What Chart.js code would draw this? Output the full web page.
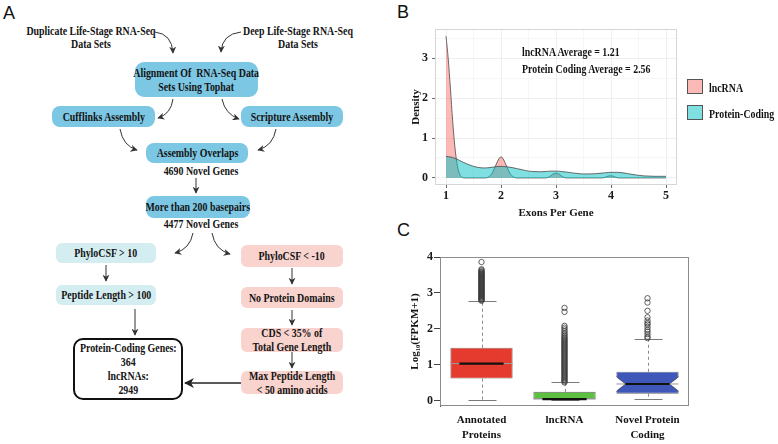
<!DOCTYPE html>
<html><head><meta charset="utf-8">
<script src="https://cdn.jsdelivr.net/npm/chart.js@4"></script>
<style>
html,body{margin:0;padding:0;background:#fff;}
#root{position:relative;width:778px;height:444px;overflow:hidden;font-family:"Liberation Serif","Times New Roman",serif;color:#141414;}
.plab{position:absolute;font-family:"Liberation Sans",Arial,sans-serif;font-size:18px;line-height:18px;color:#111;}
.box{position:absolute;display:flex;align-items:center;justify-content:center;text-align:center;font-weight:bold;font-size:11.5px;line-height:14px;box-sizing:border-box;}
.box span{display:inline-block;transform:scaleX(0.86);white-space:nowrap;}
.blue{background:#7cc7e4;border-radius:8px;}
.cyan{background:#d4edf1;border-radius:6px;}
.pink{background:#f9d3ce;border-radius:6px;}
.txt{position:absolute;font-weight:bold;font-size:11.5px;line-height:13px;text-align:center;white-space:nowrap;transform:translateX(-50%) scaleX(0.86);}
.ann{position:absolute;font-weight:bold;font-size:13px;line-height:15px;white-space:nowrap;transform-origin:0 50%;transform:scaleX(0.76);}
.key{position:absolute;width:16px;height:15px;box-sizing:border-box;border:1px solid #555;}
canvas{position:absolute;}
svg{position:absolute;left:0;top:0;}
</style></head>
<body><div id="root">
<div class="plab" style="left:3px;top:4px">A</div>
<div class="plab" style="left:397px;top:3px">B</div>
<div class="plab" style="left:397px;top:221px">C</div>

<!-- Panel A flowchart -->
<div class="txt" style="left:91px;top:25px">Duplicate Life-Stage RNA-Seq<br>Data Sets</div>
<div class="txt" style="left:298px;top:25px">Deep Life-Stage RNA-Seq<br>Data Sets</div>
<div class="box blue" style="left:135px;top:62px;width:123px;height:35px;border-radius:9px"><span>Alignment Of&nbsp; RNA-Seq Data<br>Sets Using Tophat</span></div>
<div class="box blue" style="left:52px;top:106px;width:103px;height:21px"><span>Cufflinks Assembly</span></div>
<div class="box blue" style="left:241px;top:106px;width:102px;height:21px"><span>Scripture Assembly</span></div>
<div class="box blue" style="left:146px;top:143px;width:102px;height:20px"><span>Assembly Overlaps</span></div>
<div class="txt" style="left:201px;top:165px">4690 Novel Genes</div>
<div class="box blue" style="left:146px;top:196px;width:104px;height:22px"><span>More than 200 basepairs</span></div>
<div class="txt" style="left:201px;top:218px">4477 Novel Genes</div>
<div class="box cyan" style="left:56px;top:243px;width:100px;height:20px"><span>PhyloCSF &gt; 10</span></div>
<div class="box cyan" style="left:56px;top:285px;width:100px;height:20px"><span>Peptide Length &gt; 100</span></div>
<div class="box pink" style="left:241px;top:245px;width:102px;height:22px"><span>PhyloCSF &lt; -10</span></div>
<div class="box pink" style="left:241px;top:287px;width:102px;height:21px"><span>No Protein Domains</span></div>
<div class="box pink" style="left:241px;top:328px;width:102px;height:24px"><span>CDS &lt; 35% of<br>Total Gene Length</span></div>
<div class="box pink" style="left:241px;top:371px;width:102px;height:23px"><span>Max Peptide Length<br>&lt; 50 amino acids</span></div>
<div class="box" style="left:73px;top:338px;width:110px;height:62px;border:2px solid #111;border-radius:10px;background:#fff"><span>Protein-Coding Genes:<br>364<br>lncRNAs:<br>2949</span></div>
<svg width="380" height="444" viewBox="0 0 380 444">
<defs>
<marker id="ah" viewBox="0 0 10 10" refX="9" refY="5" markerWidth="7" markerHeight="7" markerUnits="userSpaceOnUse" orient="auto"><path d="M0,0 L10,5 L0,10 L3,5 z" fill="#333"/></marker>
<marker id="ahb" viewBox="0 0 10 10" refX="9" refY="5" markerWidth="11" markerHeight="10" markerUnits="userSpaceOnUse" orient="auto"><path d="M0,0 L10,5 L0,10 L3,5 z" fill="#222"/></marker>
</defs>
<g fill="none" stroke="#333" stroke-width="1" marker-end="url(#ah)">
<path d="M155 32 Q172 34 173 53"/>
<path d="M241 32 Q222 34 221 52"/>
<path d="M173 99 Q171 114 158 118"/>
<path d="M222 99 Q225 114 239 119"/>
<path d="M120 129 Q123 146 137 150"/>
<path d="M276 129 Q273 146 258 150"/>
<path d="M196 178 L196 193"/>
<path d="M193 233 Q190 249 175 253"/>
<path d="M212 233 Q215 250 230 254"/>
<path d="M106 265 L106 281"/>
<path d="M135 309 L135 335"/>
<path d="M292 268 L292 284"/>
<path d="M292 310 L292 325"/>
<path d="M292 352 L292 368"/>
</g>
<path d="M241 383 L185 383" fill="none" stroke="#222" stroke-width="1.6" marker-end="url(#ahb)"/>
</svg>

<!-- Panel B -->
<canvas id="cB" width="398" height="222" style="left:380px;top:0px"></canvas>
<div class="ann" style="left:522px;top:44px">lncRNA Average = 1.21</div>
<div class="ann" style="left:522px;top:61px">Protein Coding Average = 2.56</div>
<div class="key" style="left:687px;top:79px;background:rgba(248,118,109,0.5)"></div>
<div class="key" style="left:687px;top:105px;background:rgba(0,191,196,0.5)"></div>
<div class="ann" style="left:709px;top:80px">lncRNA</div>
<div class="ann" style="left:709px;top:106px">Protein-Coding</div>

<!-- Panel C -->
<canvas id="cC" width="398" height="222" style="left:380px;top:222px"></canvas>
</div>
<script>
// ---------- Panel B data (density of exons per gene) ----------
const lncX = [1.00,1.04,1.08,1.12,1.16,1.20,1.24,1.28,1.32,1.72,1.78,1.84,1.90,1.95,2.00,2.05,2.10,2.16,2.22,2.28,2.82,2.88,2.94,3.00,3.06,3.12,3.18,3.84,3.90,3.96,4.02,4.08,4.14,5.00];
const lncY = [3.56,3.00,2.25,1.45,0.80,0.36,0.12,0.03,0.00,0.00,0.03,0.12,0.30,0.45,0.53,0.45,0.30,0.12,0.03,0.00,0.00,0.03,0.09,0.12,0.09,0.03,0.00,0.00,0.02,0.05,0.05,0.02,0.00,0.00];
const pcX  = [1.0,1.1,1.2,1.3,1.4,1.5,1.6,1.7,1.8,1.9,2.0,2.1,2.2,2.3,2.4,2.5,2.6,2.7,2.8,2.9,3.0,3.1,3.2,3.3,3.4,3.5,3.6,3.7,3.8,3.9,4.0,4.1,4.2,4.3,4.4,4.5,4.6,4.7,4.8,4.9,5.0];
const pcY  = [0.54,0.52,0.47,0.40,0.34,0.29,0.26,0.25,0.26,0.28,0.29,0.28,0.26,0.23,0.20,0.17,0.16,0.155,0.16,0.17,0.17,0.16,0.145,0.125,0.11,0.10,0.10,0.105,0.115,0.13,0.14,0.14,0.13,0.11,0.085,0.065,0.05,0.045,0.04,0.04,0.04];
const bXTicks = [1,2,3,4,5];
const bXMinor = [1.5,2.5,3.5,4.5];
const bYTicks = [0,1,2,3];
const bYMinor = [0.5,1.5,2.5,3.5];
const seriesNames = ['lncRNA','Protein-Coding'];

// ---------- Panel C data (box plot of Log10(FPKM+1)) ----------
const boxCats  = [['Annotated','Proteins'],['lncRNA'],['Novel Protein','Coding']];
const boxQ1    = [0.61,0.04,0.19];
const boxMed   = [1.03,0.04,0.46];
const boxQ3    = [1.47,0.24,0.80];
const whiskLo  = [0.00,0.00,0.03];
const whiskHi  = [2.78,0.52,1.71];
const notchHalf= [0.01,0.01,0.21];
const annotOut = [2.78,2.80,2.82,2.84,2.86,2.88,2.90,2.92,2.94,2.96,2.98,3.00,3.02,3.04,3.06,3.08,3.10,3.12,3.14,3.16,3.18,3.20,3.22,3.24,3.26,3.28,3.30,3.32,3.34,3.36,3.38,3.40,3.42,3.44,3.46,3.48,3.50,3.52,3.54,3.56,3.58,3.60,3.63,3.66,3.86];
const lncOut   = [0.50,0.53,0.56,0.59,0.62,0.65,0.68,0.71,0.74,0.77,0.80,0.83,0.86,0.89,0.92,0.95,0.98,1.01,1.04,1.07,1.10,1.13,1.16,1.19,1.22,1.25,1.28,1.31,1.34,1.37,1.40,1.43,1.46,1.49,1.52,1.55,1.58,1.61,1.64,1.67,1.70,1.73,1.76,1.80,1.84,1.88,1.93,1.98,2.03,2.08,2.47,2.58];
const novelOut = [1.74,1.78,1.85,1.92,1.97,2.05,2.12,2.16,2.23,2.32,2.50,2.73,2.85];
const cYTicks  = [0,1,2,3,4];

// ---------- Panel B chart ----------
const serif = '"Liberation Serif","Times New Roman",serif';
const pts = (xs, ys) => xs.map((x, i) => ({x: x, y: ys[i]}));
const bBorder = {
  id: 'bBorder',
  afterDraw(chart) {
    const a = chart.chartArea, c = chart.ctx;
    c.save(); c.strokeStyle = '#d6d6d6'; c.lineWidth = 1;
    c.strokeRect(a.left + 0.5, a.top + 0.5, a.right - a.left - 1, a.bottom - a.top - 1);
    c.restore();
  }
};
new Chart(document.getElementById('cB'), {
  type: 'line',
  data: { datasets: [
    { label: seriesNames[1], data: pts(pcX, pcY), borderColor: '#4a4a4a', borderWidth: 0.8,
      backgroundColor: 'rgba(0,191,196,0.5)', fill: 'origin', pointRadius: 0, cubicInterpolationMode: 'monotone' },
    { label: seriesNames[0], data: pts(lncX, lncY), borderColor: '#4a4a4a', borderWidth: 0.8,
      backgroundColor: 'rgba(248,118,109,0.5)', fill: 'origin', pointRadius: 0, cubicInterpolationMode: 'monotone' }
  ]},
  options: {
    responsive: false, animation: false, devicePixelRatio: 1,
    layout: { padding: { left: 29.7, top: 29, right: 101, bottom: 0 } },
    plugins: { legend: { display: false }, tooltip: { enabled: false } },
    scales: {
      x: {
        type: 'linear', min: 0.8, max: 5.2,
        afterBuildTicks: s => { s.ticks = bXTicks.concat(bXMinor).sort((a,b)=>a-b).map(v => ({value: v})); },
        afterFit: s => { s.height = 37; },
        ticks: { autoSkip: false, maxRotation: 0, padding: 1, color: '#1a1a1a',
          font: { family: serif, size: 12, weight: 'bold' },
          callback: v => bXTicks.includes(v) ? String(v) : '' },
        grid: { color: c => (c.tick && bXTicks.includes(c.tick.value)) ? '#ebebeb' : '#f4f4f4', lineWidth: 0.8,
          tickLength: 3, tickColor: c => (c.tick && bXTicks.includes(c.tick.value)) ? '#444' : 'rgba(0,0,0,0)' },
        border: { display: false },
        title: { display: true, text: 'Exons Per Gene', color: '#141414', padding: { top: 0, bottom: 2.5 },
          font: { family: serif, size: 11, weight: 'bold' } }
      },
      y: {
        min: -0.178, max: 3.738,
        afterBuildTicks: s => { s.ticks = bYTicks.concat(bYMinor).sort((a,b)=>a-b).map(v => ({value: v})); },
        afterFit: s => { s.width = 25.3; },
        ticks: { autoSkip: false, padding: 4, color: '#1a1a1a',
          font: { family: serif, size: 12, weight: 'bold' },
          callback: v => bYTicks.includes(v) ? String(v) : '' },
        grid: { color: c => (c.tick && bYTicks.includes(c.tick.value)) ? '#ebebeb' : '#f4f4f4', lineWidth: 0.8,
          tickLength: 3, tickColor: c => (c.tick && bYTicks.includes(c.tick.value)) ? '#444' : 'rgba(0,0,0,0)' },
        border: { display: false },
        title: { display: true, text: 'Density', color: '#141414', padding: { top: 0, bottom: 0 },
          font: { family: serif, size: 11, weight: 'bold' } }
      }
    }
  },
  plugins: [bBorder]
});

// ---------- Panel C chart ----------
const boxPlugin = {
  id: 'boxParts',
  beforeDatasetsDraw(chart) {
    const x = chart.scales.x, y = chart.scales.y, c = chart.ctx;
    const hw = x.getPixelForValue(1.375) - x.getPixelForValue(1);
    c.save();
    boxCats.forEach((cat, i) => {
      const cx = Math.round(x.getPixelForValue(i + 1)) + 0.5;
      c.strokeStyle = '#8a8a8a'; c.lineWidth = 1; c.setLineDash([3, 3]);
      c.beginPath();
      c.moveTo(cx, y.getPixelForValue(boxQ3[i])); c.lineTo(cx, y.getPixelForValue(whiskHi[i]));
      c.moveTo(cx, y.getPixelForValue(boxQ1[i])); c.lineTo(cx, y.getPixelForValue(whiskLo[i]));
      c.stroke();
      c.setLineDash([]); c.strokeStyle = '#7a7a7a'; c.lineWidth = 1.2;
      c.beginPath();
      [whiskHi[i], whiskLo[i]].forEach(v => {
        const py = Math.round(y.getPixelForValue(v)) + 0.5;
        c.moveTo(cx - hw * 0.45, py); c.lineTo(cx + hw * 0.45, py);
      });
      c.stroke();
    });
    c.restore();
  },
  afterDatasetsDraw(chart) {
    const x = chart.scales.x, y = chart.scales.y, c = chart.ctx, a = chart.chartArea;
    const hw = x.getPixelForValue(1.375) - x.getPixelForValue(1);
    c.save();
    boxCats.forEach((cat, i) => {
      const cx = x.getPixelForValue(i + 1);
      const pm = y.getPixelForValue(boxMed[i]);
      const inset = hw * 0.29;
      if (notchHalf[i] > 0.05) {
        const ph = y.getPixelForValue(boxMed[i] + notchHalf[i]);
        const pl = y.getPixelForValue(boxMed[i] - notchHalf[i]);
        c.fillStyle = '#ffffff';
        [-1, 1].forEach(sd => {
          const ex = cx + sd * (hw + 1);
          c.beginPath(); c.moveTo(ex, ph); c.lineTo(cx + sd * (hw - inset), pm); c.lineTo(ex, pl); c.closePath(); c.fill();
        });
        c.strokeStyle = '#5a5a5a'; c.lineWidth = 0.8;
        [-1, 1].forEach(sd => {
          c.beginPath(); c.moveTo(cx + sd * hw, ph); c.lineTo(cx + sd * (hw - inset), pm); c.lineTo(cx + sd * hw, pl); c.stroke();
        });
      }
      c.strokeStyle = '#9a9a9a'; c.lineWidth = 1;
      c.beginPath(); c.moveTo(cx - hw, pm); c.lineTo(cx + hw, pm); c.stroke();
      c.strokeStyle = '#111'; c.lineWidth = 2.2;
      c.beginPath(); c.moveTo(cx - hw + inset, pm); c.lineTo(cx + hw - inset, pm); c.stroke();
    });
    c.strokeStyle = '#8c8c8c'; c.lineWidth = 1;
    c.strokeRect(Math.round(a.left) + 0.5, Math.round(a.top) + 0.5, Math.round(a.right - a.left) - 1, Math.round(a.bottom - a.top) - 1);
    c.restore();
  }
};
const outStyle = { type: 'scatter', pointStyle: 'circle', pointRadius: 2.7, pointBorderWidth: 0.8,
  pointBorderColor: '#3a3a3a', pointBackgroundColor: 'rgba(255,255,255,0)', showLine: false };
new Chart(document.getElementById('cC'), {
  type: 'bar',
  data: { datasets: [
    { type: 'bar', label: 'IQR', data: boxCats.map((c, i) => ({x: i + 1, y: [boxQ1[i], boxQ3[i]]})),
      backgroundColor: ['#e53b2e', '#5cc040', '#3e57b8'], borderColor: '#666', borderWidth: 0.8,
      borderSkipped: false, barPercentage: 0.75, categoryPercentage: 1 },
    Object.assign({ label: 'Annotated outliers', data: annotOut.map(v => ({x: 1, y: v})) }, outStyle),
    Object.assign({ label: 'lncRNA outliers', data: lncOut.map(v => ({x: 2, y: v})) }, outStyle),
    Object.assign({ label: 'Novel outliers', data: novelOut.map(v => ({x: 3, y: v})) }, outStyle)
  ]},
  options: {
    responsive: false, animation: false, devicePixelRatio: 1,
    layout: { padding: { left: 28.7, top: 35, right: 89, bottom: 0 } },
    plugins: { legend: { display: false }, tooltip: { enabled: false } },
    scales: {
      x: {
        type: 'linear', min: 0.5, max: 3.5, offset: false,
        afterBuildTicks: s => { s.ticks = boxCats.map((c, i) => ({value: i + 1})); },
        afterFit: s => { s.height = 38; },
        ticks: { autoSkip: false, maxRotation: 0, padding: -1, color: '#141414',
          font: { family: serif, size: 11, weight: 'bold', lineHeight: 1.35 },
          callback: v => boxCats[v - 1] },
        grid: { display: false, offset: false },
        border: { display: false }
      },
      y: {
        min: -0.154, max: 4.0,
        afterBuildTicks: s => { s.ticks = cYTicks.map(v => ({value: v})); },
        afterFit: s => { s.width = 31.3; },
        ticks: { autoSkip: false, padding: 1, color: '#1a1a1a',
          font: { family: serif, size: 12, weight: 'bold' } },
        grid: { drawOnChartArea: false, tickLength: 6, tickColor: '#444' },
        border: { display: true, color: '#555' },
        title: { display: true, text: 'Log\u2081\u2080(FPKM+1)', color: '#141414', padding: { top: 0, bottom: 0 },
          font: { family: serif, size: 11, weight: 'bold' } }
      }
    }
  },
  plugins: [boxPlugin]
});
</script>
</body></html>
